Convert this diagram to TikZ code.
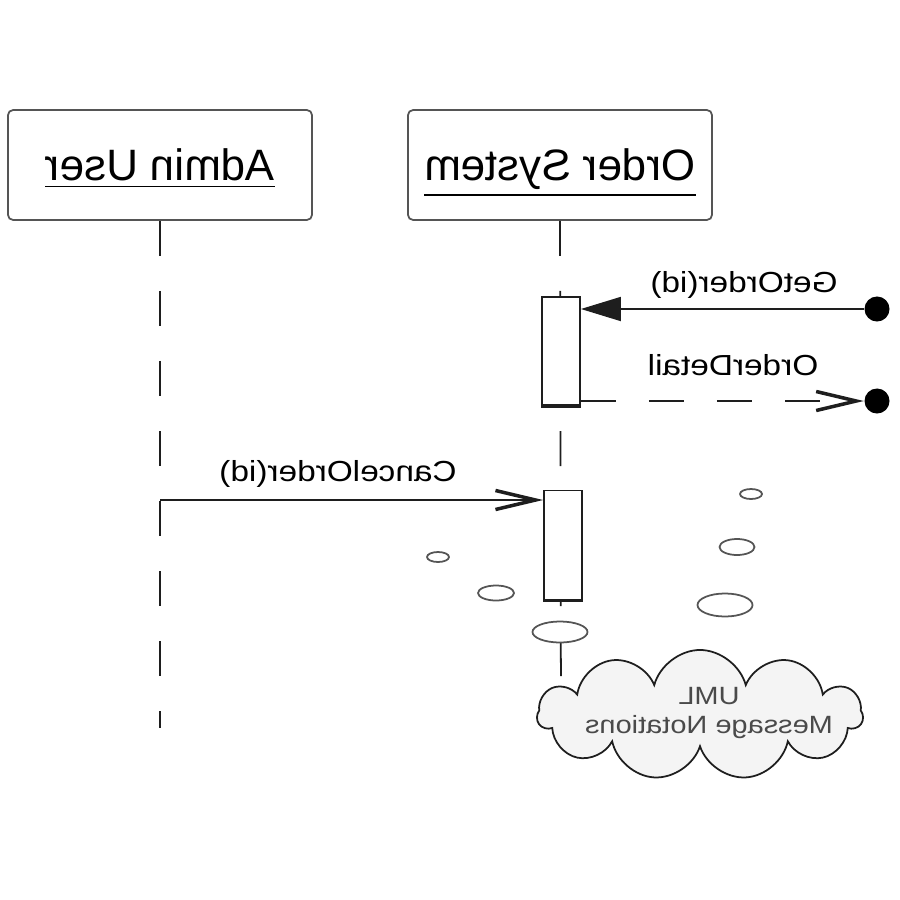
\documentclass[tikz,border=0pt]{standalone}
\usepackage{fontspec}
\setmainfont{Liberation Sans}
\usetikzlibrary{arrows.meta, shapes.geometric, shapes.symbols}
\definecolor{frame}{HTML}{555555}
\definecolor{ink}{HTML}{1E1E1E}
\definecolor{notefill}{HTML}{F4F4F4}
\definecolor{notetext}{HTML}{4A4A4A}

\begin{document}
\begin{tikzpicture}[
    x=0.01cm, y=-0.01cm,
    actor/.style={draw=frame, line width=0.5pt, rounded corners=1.5pt, fill=white, minimum width=3.04cm, minimum height=1.1cm, inner sep=0pt, text depth=0pt, xscale=-1, font=\fontsize{12.5pt}{15pt}\selectfont},
    lifeline/.style={ink, line width=0.5pt, dash pattern=on 0.35cm off 0.35cm},
    activation/.style={draw=ink, line width=0.5pt, fill=white, minimum width=0.38cm, inner sep=0pt},
    msg/.style={ink, line width=0.5pt},
    msglabel/.style={font=\fontsize{8.25pt}{10pt}\selectfont, xscale=-1.15, inner sep=0pt, anchor=base},
    endpoint/.style={circle, fill=black, minimum size=0.25cm, inner sep=0pt},
    bubble/.style={ellipse, draw=frame, line width=0.5pt, fill=white, inner sep=0pt},
    open/.style={-{Straight Barb[length=0.4cm, width=0.19cm, line width=1pt]}},
    filled/.style={-{Triangle[length=0.4cm, width=0.24cm]}},
]
\useasboundingbox (0,0) rectangle (900,900);
\node[actor] (admin) at (160,165) {\underline{Admin User}};
\node[actor] (order) at (560,165) {\underline{Order System}};
\coordinate (adminend) at (160,728);
\coordinate (orderend) at (561,728);
\draw[lifeline] (admin.south) -- (adminend);
\draw[lifeline] (order.south) -- (orderend);
\node[activation, minimum height=1.08cm] (act1) at (561,351) {};
\node[activation, minimum height=1.09cm] (act2) at (563,545) {};
\draw[ink, line width=1pt] (act1.south west) -- (act1.south east);
\draw[ink, line width=1pt] (act2.south west) -- (act2.south east);
\node[endpoint] (getsrc) at (877,309) {};
\node[endpoint] (detailsink) at (877,401) {};
\coordinate (cancelsrc) at (160,500);
\draw[msg, filled] (getsrc) -- (getsrc -| act1.east);
\draw[msg, open, dash pattern=on 0.35cm off 0.33cm] (act1.east |- detailsink) -- (detailsink);
\draw[msg, open] (cancelsrc) -- (cancelsrc -| act2.west);
\node[msglabel] (getlbl) at (744,292) {GetOrder(id)};
\node[msglabel] (detaillbl) at (733,375) {OrderDetail};
\node[msglabel] (cancellbl) at (338,481) {CancelOrder(id)};
\node[bubble, minimum width=0.22cm, minimum height=0.1cm] (b1) at (438,557) {};
\node[bubble, minimum width=0.36cm, minimum height=0.15cm] (b2) at (496,593) {};
\node[bubble, minimum width=0.22cm, minimum height=0.1cm] (b3) at (751,494) {};
\node[bubble, minimum width=0.35cm, minimum height=0.16cm] (b4) at (737,547) {};
\node[bubble, minimum width=0.55cm, minimum height=0.23cm] (b5) at (725,605) {};
\node[bubble, minimum width=0.55cm, minimum height=0.21cm] (b6) at (560,632) {};
\node[cloud, cloud puffs=11, aspect=2.5, draw=ink, line width=0.5pt, fill=notefill, minimum width=3.25cm, minimum height=1.3cm, inner sep=0pt] (note) at (700,715) {};
\node[font=\fontsize{7.1pt}{8.5pt}\selectfont, notetext, xscale=-1.16, align=center, inner sep=0pt] (notetxt) at (709,713) {UML\\Message Notations};
\end{tikzpicture}
\end{document}
